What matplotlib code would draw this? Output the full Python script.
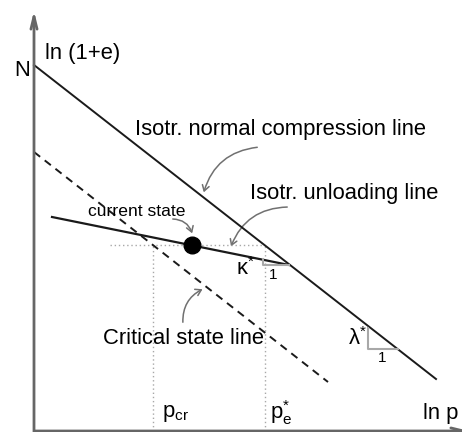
import matplotlib
matplotlib.use("Agg")
import matplotlib.pyplot as plt
from matplotlib.patches import FancyArrowPatch

plt.rcParams['font.family'] = ['Liberation Sans', 'DejaVu Sans']
plt.rcParams['mathtext.fontset'] = 'custom'
plt.rcParams['mathtext.rm'] = 'Liberation Sans'
plt.rcParams['mathtext.it'] = 'Liberation Sans:italic'

# ln p on x, ln(1+e) on y (arbitrary units of the sketch)
ncl_lnp = [0, 402]
ncl_lne = [366, 52]
csl_lnp = [0, 294]
csl_lne = [279, 49]
url_lnp = [18, 255]
url_lne = [214, 166]

current_lnp = 158
current_lne = 186
lnp_cr = 119
lnp_e = 230.5
dotted_start = 76

kappa_tri_lnp = [229, 229, 255]
kappa_tri_lne = [172, 166, 166]
lambda_tri_lnp = [334, 334, 364]
lambda_tri_lne = [103, 82, 82]

fig = plt.figure(figsize=(4.62, 4.32), dpi=100)
ax = fig.add_axes([0, 0, 1, 1])
ax.set_xlim(-34, 428)
ax.set_ylim(-1, 431)
ax.axis('off')

axis_col = '#666666'
guide_col = '#a8a8a8'
arrow_col = '#707070'

# coordinate axes
ax.annotate('', xy=(0, 423), xytext=(0, -5),
            arrowprops=dict(arrowstyle='->,head_length=0.9,head_width=0.22',
                            color=axis_col, lw=2))
ax.annotate('', xy=(438, 0), xytext=(-2, 0),
            arrowprops=dict(arrowstyle='->,head_length=0.9,head_width=0.22',
                            color=axis_col, lw=2), annotation_clip=False)

# guide lines at the current state
ax.plot([dotted_start, lnp_e], [current_lne, current_lne], ls=(0, (1, 2)),
        color=guide_col, lw=1)
ax.plot([lnp_cr, lnp_cr], [0, current_lne], ls=(0, (1, 2)), color=guide_col, lw=1)
ax.plot([lnp_e, lnp_e], [0, current_lne], ls=(0, (1, 2)), color=guide_col, lw=1)

# state lines
ax.plot(ncl_lnp, ncl_lne, color='#1a1a1a', lw=1.4)
ax.plot(csl_lnp, csl_lne, color='#1a1a1a', lw=1.4, ls=(0, (4, 3)))
ax.plot(url_lnp, url_lne, color='#1a1a1a', lw=1.6)
ax.plot([current_lnp], [current_lne], 'o', color='black', ms=12)

# slope triangles
ax.plot(kappa_tri_lnp, kappa_tri_lne, color=guide_col, lw=1.5)
ax.plot(lambda_tri_lnp, lambda_tri_lne, color=guide_col, lw=1.5)

big = 15.8
ax.text(-12, 360, 'N', fontsize=big, ha='center', va='center')
ax.text(11, 378, 'ln (1+e)', fontsize=big, ha='left', va='center')
ax.text(101, 301, 'Isotr. normal compression line', fontsize=big, ha='left', va='center')
ax.text(216, 238, 'Isotr. unloading line', fontsize=big, ha='left', va='center')
ax.text(54, 219, 'current state', fontsize=12.6, ha='left', va='center')
ax.text(69, 93, 'Critical state line', fontsize=big, ha='left', va='center')
ax.text(128, 18, r'p$_{\rm cr}$', fontsize=big, ha='left', va='center')
ax.text(236, 18, r'p$_{\rm e}^{*}$', fontsize=big, ha='left', va='center')
ax.text(389, 18, 'ln p', fontsize=big, ha='left', va='center')
ax.text(211, 162, r'$\mathrm{\kappa}^{*}$', fontsize=big, ha='center', va='center')
ax.text(239, 156, '1', fontsize=11, ha='center', va='center')
ax.text(323, 92, r'$\mathrm{\lambda}^{*}$', fontsize=big, ha='center', va='center')
ax.text(348, 73, '1', fontsize=11, ha='center', va='center')

# curved pointers from labels to lines
def pointer(start, end, rad):
    ax.add_patch(FancyArrowPatch(start, end, connectionstyle=f'arc3,rad={rad}',
                                 arrowstyle='->,head_length=4,head_width=2.5',
                                 color=arrow_col, lw=1.1))

pointer((226, 284), (169, 236), 0.35)
pointer((256, 224), (196, 182), 0.35)
pointer((136, 212), (159, 195), -0.4)
pointer((149, 106), (171, 143), -0.35)

fig.savefig('out.png', dpi=100)
